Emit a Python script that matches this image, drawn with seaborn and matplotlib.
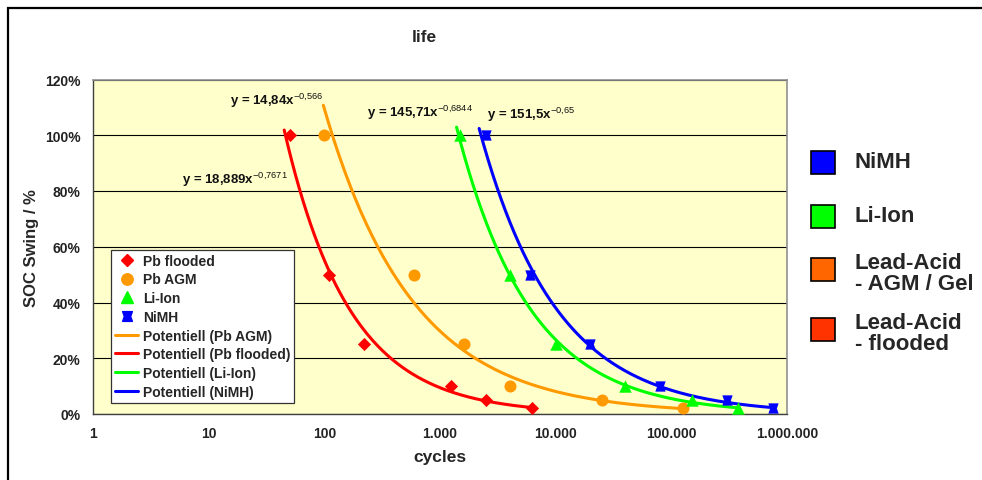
import numpy as np
import matplotlib
matplotlib.use("Agg")
import matplotlib.pyplot as plt
import seaborn as sns
from matplotlib.path import Path
from matplotlib.patches import Rectangle
from matplotlib.lines import Line2D
from matplotlib.ticker import FixedLocator, FuncFormatter, NullLocator

# SOC swing levels (%) shared by all battery types
soc_levels = [100, 50, 25, 10, 5, 2]

# cycles for each chemistry
cycles_pb_flooded = [50, 110, 220, 1250, 2500, 6250]
cycles_pb_agm = [100, 600, 1600, 4000, 25000, 125000]
cycles_li_ion = [1500, 4000, 10000, 40000, 150000, 375000]
cycles_nimh = [2500, 6000, 20000, 80000, 300000, 750000]

series_names = ["Pb flooded", "Pb AGM", "Li-Ion", "NiMH"]
series_cycles = [cycles_pb_flooded, cycles_pb_agm, cycles_li_ion, cycles_nimh]

# power trendlines y = a * x^b as printed on the chart (y as fraction)
fit_a = [18.889, 14.84, 145.71, 151.5]
fit_b = [-0.7671, -0.566, -0.6844, -0.65]
fit_x_from = [45, 98, 1390, 2180]
fit_x_to = [6250, 125000, 375000, 750000]
fit_text = ["y = 18,889x", "y = 14,84x", "y = 145,71x", "y = 151,5x"]
fit_text_exp = ["-0{,}7671", "-0{,}566", "-0{,}6844", "-0{,}65"]

x_ticks = [1, 10, 100, 1000, 10000, 100000, 1000000]
y_ticks = [0, 20, 40, 60, 80, 100, 120]

side_labels = ["NiMH", "Li-Ion", "Lead-Acid\n- AGM / Gel", "Lead-Acid\n- flooded"]
side_colors = ["#0000FF", "#00FF00", "#FF6600", "#FF3300"]

colors = ["#FF0000", "#FF9900", "#00FF00", "#0000FF"]
hourglass = Path([(-1, 1), (1, 1), (0.65, 0), (1, -1), (-1, -1), (-0.65, 0), (-1, 1)],
                 [Path.MOVETO] + [Path.LINETO] * 5 + [Path.CLOSEPOLY])
markers = ["D", "o", "^", hourglass]
sizes = [45, 75, 80, 55]

sns.set_style("white")
plt.rcParams["font.family"] = ["Liberation Sans", "DejaVu Sans"]
plt.rcParams["mathtext.fontset"] = "custom"
plt.rcParams["mathtext.rm"] = "Liberation Sans"
plt.rcParams["mathtext.bf"] = "Liberation Sans:bold"

fig = plt.figure(figsize=(9.82, 4.81), dpi=100)
ax = fig.add_axes([93 / 982, 66 / 481, 694 / 982, 334.5 / 481])
ax.set_facecolor("#FFFFCC")

for i, name in enumerate(series_names):
    xs = np.geomspace(fit_x_from[i], fit_x_to[i], 200)
    ys = fit_a[i] * xs ** fit_b[i] * 100
    sns.lineplot(x=xs, y=ys, color=colors[i], lw=2.2, ax=ax, zorder=3)

for i, name in enumerate(series_names):
    sns.scatterplot(x=series_cycles[i], y=soc_levels, color=colors[i], marker=markers[i],
                    s=sizes[i], linewidth=0, ax=ax, zorder=4)

ax.set_xscale("log")
ax.set_xlim(1, 1000000)
ax.set_ylim(0, 120)
ax.xaxis.set_major_locator(FixedLocator(x_ticks))
ax.xaxis.set_minor_locator(NullLocator())
ax.xaxis.set_major_formatter(FuncFormatter(lambda v, p: f"{int(round(v)):,}".replace(",", ".")))
ax.yaxis.set_major_locator(FixedLocator(y_ticks))
ax.yaxis.set_major_formatter(FuncFormatter(lambda v, p: f"{v:.0f}%"))
ax.grid(axis="y", color="black", lw=0.8)
ax.grid(axis="x", visible=False)
ax.set_axisbelow(True)
ax.tick_params(axis="both", direction="out", length=4, width=0.8, color="#404040",
               labelsize=10, pad=5)
for lab in ax.get_xticklabels() + ax.get_yticklabels():
    lab.set_fontweight("bold")
    lab.set_color("#222222")
for side in ["left", "bottom"]:
    ax.spines[side].set_color("#404040")
    ax.spines[side].set_linewidth(1.0)
for side in ["top", "right"]:
    ax.spines[side].set_color("#909090")
    ax.spines[side].set_linewidth(1.2)

ax.set_xlabel("cycles", fontsize=12.5, fontweight="bold")
ax.set_ylabel("SOC Swing / %", fontsize=12, fontweight="bold")
ax.xaxis.set_label_coords(0.5, -0.105)
ax.yaxis.set_label_coords(-0.078, 0.5)
fig.text(424 / 982, 1 - 38 / 481, "life", fontsize=12.5, fontweight="bold",
         ha="center", va="center")

# trendline equations
eq_pos = [(5.9, 84.2), (15.3, 112.8), (233, 108.2), (2540, 107.5)]
for i in range(4):
    ax.text(eq_pos[i][0], eq_pos[i][1],
            fit_text[i] + r"$^{\mathrm{" + fit_text_exp[i] + "}}$",
            fontsize=9.5, fontweight="bold", ha="left", va="center", color="#111111")

# inset legend: markers then trendlines
handles = []
for i, name in enumerate(series_names):
    handles.append(Line2D([], [], ls="none", marker=markers[i], color=colors[i],
                          markersize=np.sqrt(sizes[i]) * 0.95, label=name))
for i in [1, 0, 2, 3]:
    handles.append(Line2D([], [], color=colors[i], lw=2.2,
                          label=f"Potentiell ({series_names[i]})"))
leg = ax.legend(handles=handles, loc="lower left", bbox_to_anchor=(0.0255, 0.033),
                fontsize=10, frameon=True, fancybox=False, framealpha=1,
                edgecolor="#333333", borderpad=0.3, labelspacing=0.34,
                handlelength=1.7, handletextpad=0.3, borderaxespad=0)
leg.get_frame().set_linewidth(0.9)
for t in leg.get_texts():
    t.set_fontweight("bold")

# chemistry key on the right
side_box_y = [163, 217, 270, 330]
side_text_y = [163, 217, 274, 334]
for c, l, by, ty in zip(side_colors, side_labels, side_box_y, side_text_y):
    fig.patches.append(Rectangle((811 / 982, 1 - (by + 11.5) / 481), 24 / 982, 23 / 481,
                                 transform=fig.transFigure, facecolor=c,
                                 edgecolor="black", lw=1.2))
    fig.text(855 / 982, 1 - ty / 481, l, fontsize=16, fontweight="bold",
             ha="left", va="center", linespacing=1.05)

# outer frame (cut off at right and bottom like the original)
fig.patches.append(Rectangle((8 / 982, -0.1), 1.2, 1.1 - 9 / 481, transform=fig.transFigure,
                             fill=False, lw=1.6, edgecolor="black", clip_on=False))

fig.savefig("out.png", dpi=100)
